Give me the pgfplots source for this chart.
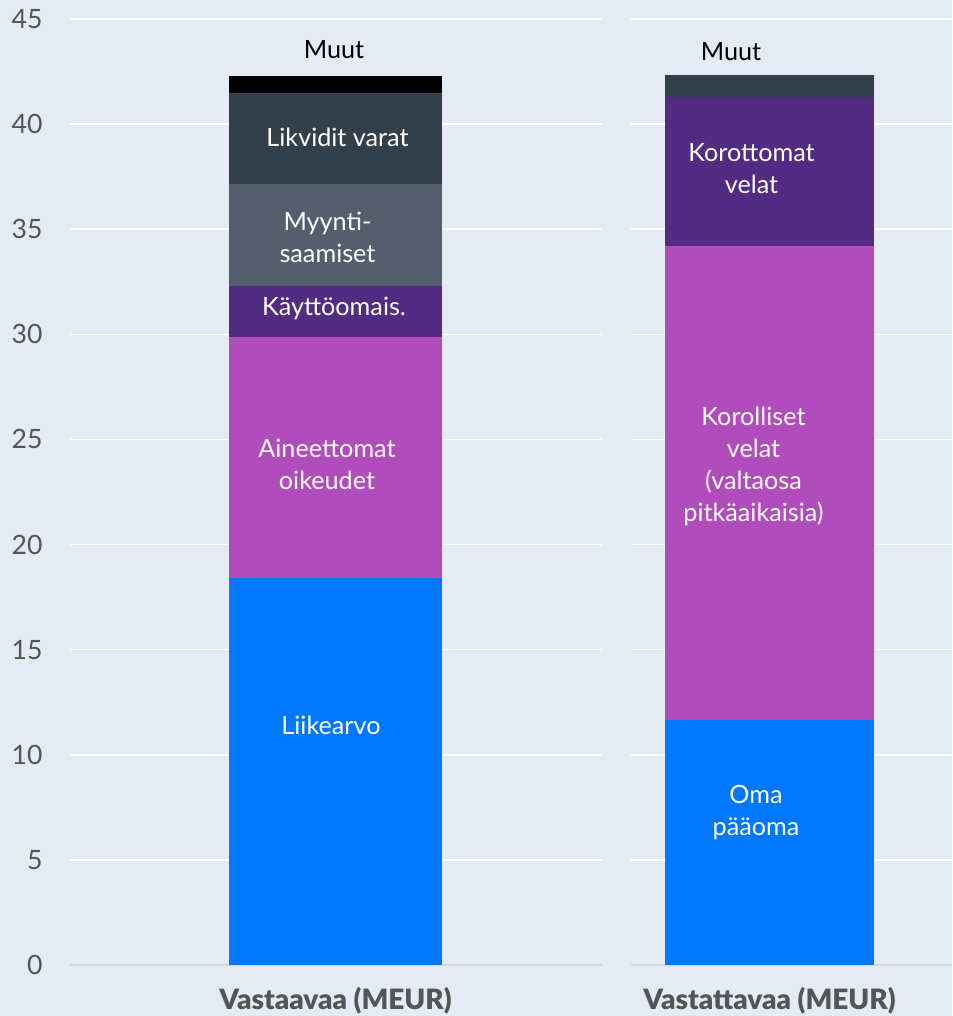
\documentclass[border=0pt]{standalone}
\usepackage{pgfplots}
\pgfplotsset{compat=1.18}
\usepackage{fontspec}
\setmainfont{Lato}
\newfontfamily\heavyfont{Lato Black}

\definecolor{bgc}{HTML}{E5EBF5}
\definecolor{axisgray}{HTML}{D4D7DC}
\definecolor{tickgray}{HTML}{555555}
\definecolor{cblue}{HTML}{0077FF}
\definecolor{cmag}{HTML}{B04CBC}
\definecolor{cpurple}{HTML}{522C82}
\definecolor{cslate}{HTML}{545E6D}
\definecolor{cdark}{HTML}{333F4A}

\tikzset{
  lbl/.style={text=white, align=center, font=\fontsize{12.6}{16}\selectfont},
  toplbl/.style={text=black, font=\fontsize{12.6}{16}\selectfont},
}

\begin{document}
\begin{tikzpicture}[x=1pt,y=1pt]
\useasboundingbox (0,0) rectangle (476,508);
\fill[bgc] (0,0) rectangle (476,508);

\pgfplotsset{
  panel/.style={
    scale only axis,
    height=473pt,
    ymin=0, ymax=45,
    enlargelimits=false,
    ybar stacked,
    ytick={5,10,...,45},
    extra y ticks={0},
    extra y tick style={grid style={axisgray, line width=1pt}},
    ymajorgrids,
    grid style={white, line width=0.75pt},
    axis line style={draw=none},
    tick style={draw=none},
    /pgf/number format/assume math mode=true,
    yticklabel style={font=\fontsize{13.3}{13}\selectfont, text=tickgray,
      anchor=east, inner sep=0pt, xshift=-13.5pt},
    xticklabel style={font=\fontsize{14}{14}\selectfont\heavyfont, text=tickgray,
      anchor=base, yshift=-22.5pt},
    every axis plot/.append style={draw=none},
  },
}

% Vastaavaa
\begin{axis}[panel,
    at={(35pt,25.5pt)}, anchor=south west,
    width=266pt, xmin=0, xmax=532,
    bar width=106.5pt,
    xtick={265.5}, xticklabels={Vastaavaa (MEUR)},
    after end axis/.code={
      \node[lbl] at (axis cs:261,11.4) {Liikearvo};
      \node[lbl] at (axis cs:257,23.8) {Aineettomat\\oikeudet};
      \node[lbl] at (axis cs:264,31.25) {Käyttöomais.};
      \node[lbl] at (axis cs:257.5,34.63) {Myynti-\\saamiset};
      \node[lbl] at (axis cs:267.5,39.39) {Likvidit varat};
      \node[toplbl] at (axis cs:264,43.53) {Muut};
    },
]
\addplot[fill=cblue]   coordinates {(265.5,18.4)};
\addplot[fill=cmag]    coordinates {(265.5,11.45)};
\addplot[fill=cpurple] coordinates {(265.5,2.45)};
\addplot[fill=cslate]  coordinates {(265.5,4.85)};
\addplot[fill=cdark]   coordinates {(265.5,4.35)};
\addplot[fill=black]   coordinates {(265.5,0.8)};
\end{axis}

% Vastattavaa
\begin{axis}[panel,
    at={(315.5pt,25.5pt)}, anchor=south west,
    width=160.5pt, xmin=0, xmax=321,
    bar width=104.5pt,
    yticklabels={}, extra y tick labels={},
    xtick={138.5}, xticklabels={Vastattavaa (MEUR)},
    after end axis/.code={
      \node[lbl] at (axis cs:125,7.23) {Oma\\pääoma};
      \node[lbl] at (axis cs:122.5,23.72) {Korolliset\\velat\\(valtaosa\\pitkäaikaisia)};
      \node[lbl] at (axis cs:120.5,37.87) {Korottomat\\velat};
      \node[toplbl] at (axis cs:100,43.43) {Muut};
    },
]
\addplot[fill=cblue]   coordinates {(138.5,11.65)};
\addplot[fill=cmag]    coordinates {(138.5,22.55)};
\addplot[fill=cpurple] coordinates {(138.5,7.1)};
\addplot[fill=cdark]   coordinates {(138.5,1.05)};
\end{axis}
\end{tikzpicture}
\end{document}
